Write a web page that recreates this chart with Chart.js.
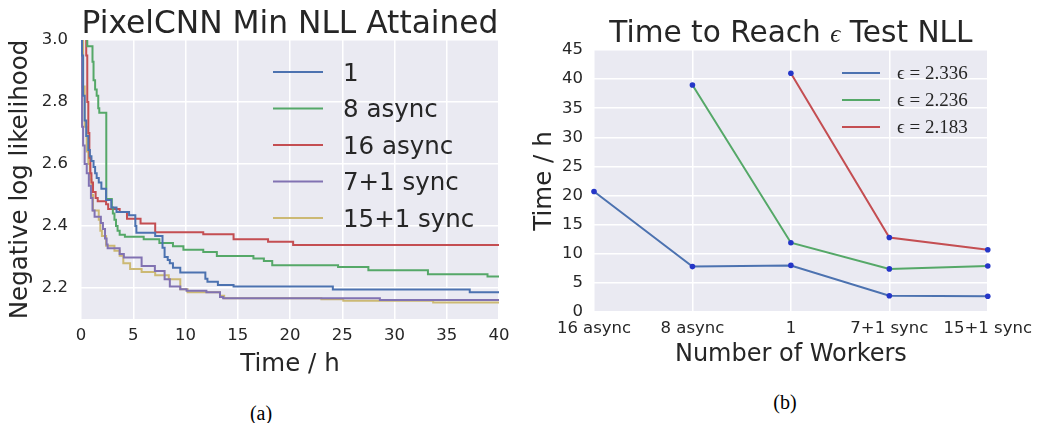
<!DOCTYPE html>
<html>
<head>
<meta charset="utf-8">
<script src="https://cdn.jsdelivr.net/npm/chart.js@4.4.1/dist/chart.umd.min.js"></script>
<style>
  html, body { margin: 0; padding: 0; background: #fff; }
  body { width: 1039px; height: 423px; position: relative; overflow: hidden; }
  .box { position: absolute; top: 0; height: 380px; }
  #left { left: 0; width: 520px; }
  #right { left: 520px; width: 519px; }
  .cap { position: absolute; font-family: 'Liberation Serif', serif; font-size: 20px; color: #000; transform: translate(-50%, -50%); }
</style>
</head>
<body>
<div class="box" id="left"><canvas id="nll"></canvas></div>
<div class="box" id="right"><canvas id="reach"></canvas></div>
<div class="cap" style="left:261px; top:413px">(a)</div>
<div class="cap" style="left:785px; top:402px">(b)</div>
<script>
// left panel: min NLL attained vs hours (value holds from its time on)
const oneTime   = [0, 0.1, 0.2, 0.35, 0.5, 0.7, 0.85, 1.0, 1.2, 1.35, 1.5, 1.7, 1.95, 2.4, 2.9, 3.4, 4.6, 5.2, 5.3, 7.1, 7.8, 8.0, 8.3, 8.5, 8.8, 9.5, 11.9, 12.1, 13.1, 14.6, 24.1, 37.2, 40];
const oneNll    = [3.4, 2.95, 2.82, 2.74, 2.69, 2.645, 2.625, 2.61, 2.59, 2.57, 2.555, 2.54, 2.52, 2.484, 2.46, 2.445, 2.435, 2.40, 2.378, 2.368, 2.33, 2.30, 2.29, 2.28, 2.265, 2.25, 2.23, 2.22, 2.21, 2.205, 2.195, 2.186, 2.186];

const async8Time = [0, 0.6, 1.1, 1.2, 1.35, 1.5, 1.65, 1.75, 2.42, 2.95, 3.05, 3.2, 3.35, 3.5, 3.7, 4.2, 6.0, 7.5, 8.8, 9.8, 11.7, 13.0, 16.5, 17.5, 18.3, 24.6, 27.5, 33.2, 38.9, 40];
const async8Nll  = [3.5, 2.98, 2.93, 2.87, 2.84, 2.82, 2.78, 2.765, 2.487, 2.46, 2.44, 2.42, 2.40, 2.385, 2.372, 2.365, 2.357, 2.345, 2.335, 2.323, 2.316, 2.303, 2.295, 2.287, 2.273, 2.268, 2.257, 2.244, 2.237, 2.237];

const async16Time = [0, 0.5, 0.6, 0.7, 0.8, 0.9, 1.0, 1.15, 1.4, 1.6, 2.4, 2.6, 3.7, 4.4, 5.7, 7.1, 11.7, 14.6, 17.9, 20.3, 40];
const async16Nll  = [3.4, 2.95, 2.8, 2.7, 2.62, 2.57, 2.54, 2.51, 2.49, 2.48, 2.47, 2.455, 2.445, 2.423, 2.408, 2.38, 2.373, 2.357, 2.349, 2.339, 2.339];

const sync8Time = [0, 0.02, 0.1, 0.2, 0.35, 0.55, 0.75, 0.95, 1.1, 1.3, 1.9, 2.1, 2.3, 2.45, 2.55, 3.7, 4.1, 5.8, 7.07, 8.0, 8.5, 9.5, 10.1, 12.0, 13.3, 13.6, 28.6, 40];
const sync8Nll  = [3.4, 2.85, 2.72, 2.66, 2.6, 2.57, 2.53, 2.49, 2.45, 2.43, 2.41, 2.39, 2.36, 2.34, 2.328, 2.31, 2.298, 2.271, 2.255, 2.228, 2.205, 2.196, 2.191, 2.186, 2.171, 2.167, 2.161, 2.161];

const sync16Time = [0, 0.05, 0.2, 0.35, 0.55, 0.7, 0.85, 1.0, 1.15, 1.7, 1.85, 2.0, 2.4, 3.2, 3.7, 4.05, 4.7, 5.8, 7.1, 8.4, 9.5, 10.2, 13.3, 13.7, 23, 25.1, 33.7, 40];
const sync16Nll  = [3.4, 3.0, 2.85, 2.72, 2.64, 2.6, 2.55, 2.5, 2.45, 2.42, 2.385, 2.368, 2.336, 2.32, 2.304, 2.28, 2.261, 2.252, 2.241, 2.228, 2.196, 2.186, 2.175, 2.167, 2.164, 2.159, 2.153, 2.153];

const nllTicks = [2.2, 2.4, 2.6, 2.8, 3.0];

// right panel: hours to reach each epsilon
const workers = ['16 async', '8 async', '1', '7+1 sync', '15+1 sync'];
const eps2336 = [20.7, 7.8, 8.0, 2.8, 2.7];
const eps2236 = [null, 39, 11.9, 7.4, 7.9];
const eps2183 = [null, null, 41, 12.8, 10.7];

const BLUE = '#4C72B0', GREEN = '#55A868', RED = '#C44E52', PURPLE = '#8172B2', GOLD = '#CCB974';
const INK = '#262626';
const SANS = '"DejaVu Sans"';
const SERIF = '"Liberation Serif"';

const pairs = (xs, ys) => xs.map((x, i) => ({x, y: ys[i]}));

const darkgrid = {
  id: 'darkgrid',
  beforeDraw(chart) {
    const {ctx, chartArea: a} = chart;
    ctx.save();
    ctx.fillStyle = '#EAEAF2';
    ctx.fillRect(a.left, a.top, a.right - a.left, a.bottom - a.top);
    ctx.restore();
  }
};

// title centred over the plot, not the canvas; parts allow a math-style glyph
const heading = {
  id: 'heading',
  afterDraw(chart, args, o) {
    const {ctx, chartArea: a} = chart;
    ctx.save();
    ctx.fillStyle = INK;
    ctx.textAlign = 'left';
    ctx.textBaseline = 'alphabetic';
    const widths = o.parts.map(p => { ctx.font = p.font; return ctx.measureText(p.text).width; });
    let x = (a.left + a.right) / 2 - widths.reduce((s, w) => s + w, 0) / 2;
    o.parts.forEach((p, i) => {
      ctx.font = p.font;
      ctx.fillText(p.text, x, o.y);
      x += widths[i];
    });
    ctx.restore();
  }
};

const key = {
  id: 'key',
  afterDraw(chart, args, o) {
    const {ctx} = chart;
    ctx.save();
    ctx.font = o.size + 'px ' + o.family;
    ctx.fillStyle = INK;
    ctx.textAlign = 'left';
    ctx.textBaseline = 'alphabetic';
    chart.data.datasets.forEach((ds, i) => {
      const y = o.y + i * o.gap;
      ctx.strokeStyle = ds.borderColor;
      ctx.lineWidth = 2;
      ctx.beginPath();
      ctx.moveTo(o.x, y);
      ctx.lineTo(o.x + o.len, y);
      ctx.stroke();
      ctx.fillText(ds.label, o.x + o.len + o.pad, y + o.size * o.drop);
    });
    ctx.restore();
  }
};

const tickFont = {family: 'DejaVu Sans', size: 16.5, lineHeight: 1.2};
const titleFont = {family: 'DejaVu Sans', size: 24.5, lineHeight: 1};
const grid = {color: '#ffffff', lineWidth: 1.5, drawTicks: false};

new Chart(document.getElementById('nll'), {
  type: 'line',
  data: {
    datasets: [
      {label: '1', data: pairs(oneTime, oneNll), borderColor: BLUE},
      {label: '8 async', data: pairs(async8Time, async8Nll), borderColor: GREEN},
      {label: '16 async', data: pairs(async16Time, async16Nll), borderColor: RED},
      {label: '7+1 sync', data: pairs(sync8Time, sync8Nll), borderColor: PURPLE},
      {label: '15+1 sync', data: pairs(sync16Time, sync16Nll), borderColor: GOLD},
    ]
  },
  options: {
    responsive: true,
    maintainAspectRatio: false,
    animation: false,
    layout: {padding: {top: 40, right: 21, left: 0, bottom: 0}},
    elements: {
      line: {borderWidth: 2, stepped: true, tension: 0},
      point: {radius: 0},
    },
    plugins: {
      legend: {display: false},
      tooltip: {enabled: false},
      heading: {y: 33.3, parts: [{text: 'PixelCNN Min NLL Attained', font: '31.3px ' + SANS}]},
      key: {x: 273, y: 72, gap: 36.5, len: 50, pad: 20, size: 24.5, family: SANS, drop: 0.365},
    },
    scales: {
      x: {
        type: 'linear', min: 0, max: 40,
        ticks: {stepSize: 5, color: INK, font: tickFont, padding: 7},
        grid, border: {display: false},
        title: {display: true, text: 'Time / h', color: INK, font: titleFont, padding: {top: 0, bottom: 3}},
        afterFit(s) { s.height = 61; }
      },
      y: {
        min: 2.1, max: 3.0,
        afterBuildTicks(s) { s.ticks = nllTicks.map(v => ({value: v})); },
        ticks: {color: INK, font: tickFont, padding: 13, callback: v => v.toFixed(1)},
        grid, border: {display: false},
        title: {display: true, text: 'Negative log likelihood', color: INK, font: titleFont, padding: {top: 8.75, bottom: 0}},
        afterFit(s) { s.width = 81; }
      }
    }
  },
  plugins: [darkgrid, heading, key]
});

const dot = '#2536c8';
new Chart(document.getElementById('reach'), {
  type: 'line',
  data: {
    labels: workers,
    datasets: [
      {label: 'ϵ = 2.336', data: eps2336, borderColor: BLUE},
      {label: 'ϵ = 2.236', data: eps2236, borderColor: GREEN},
      {label: 'ϵ = 2.183', data: eps2183, borderColor: RED},
    ]
  },
  options: {
    responsive: true,
    maintainAspectRatio: false,
    animation: false,
    layout: {padding: {top: 50, right: 51, left: 0, bottom: 0}},
    elements: {
      line: {borderWidth: 2, tension: 0},
      point: {radius: 2.8, backgroundColor: dot, borderColor: dot, borderWidth: 0},
    },
    plugins: {
      legend: {display: false},
      tooltip: {enabled: false},
      heading: {y: 42.3, parts: [
        {text: 'Time to Reach ', font: '29.6px ' + SANS},
        {text: 'ϵ', font: 'italic 25px ' + SERIF},
        {text: ' Test NLL', font: '29.6px ' + SANS},
      ]},
      key: {x: 322, y: 73, gap: 27, len: 38, pad: 17, size: 19, family: SERIF, drop: 0.34},
    },
    scales: {
      x: {
        type: 'category', offset: false,
        ticks: {color: INK, font: tickFont, padding: 7, autoSkip: false, maxRotation: 0},
        grid, border: {display: false},
        title: {display: true, text: 'Number of Workers', color: INK, font: {family: 'DejaVu Sans', size: 24, lineHeight: 1}, padding: {top: 0, bottom: 13}},
        afterFit(s) { s.height = 68; }
      },
      y: {
        min: 0, max: 45,
        ticks: {stepSize: 5, color: INK, font: tickFont, padding: 11},
        grid, border: {display: false},
        title: {display: true, text: 'Time / h', color: INK, font: titleFont, padding: {top: 12.25, bottom: 0}},
        afterFit(s) { s.width = 74; }
      }
    }
  },
  plugins: [darkgrid, heading, key]
});
</script>
</body>
</html>
